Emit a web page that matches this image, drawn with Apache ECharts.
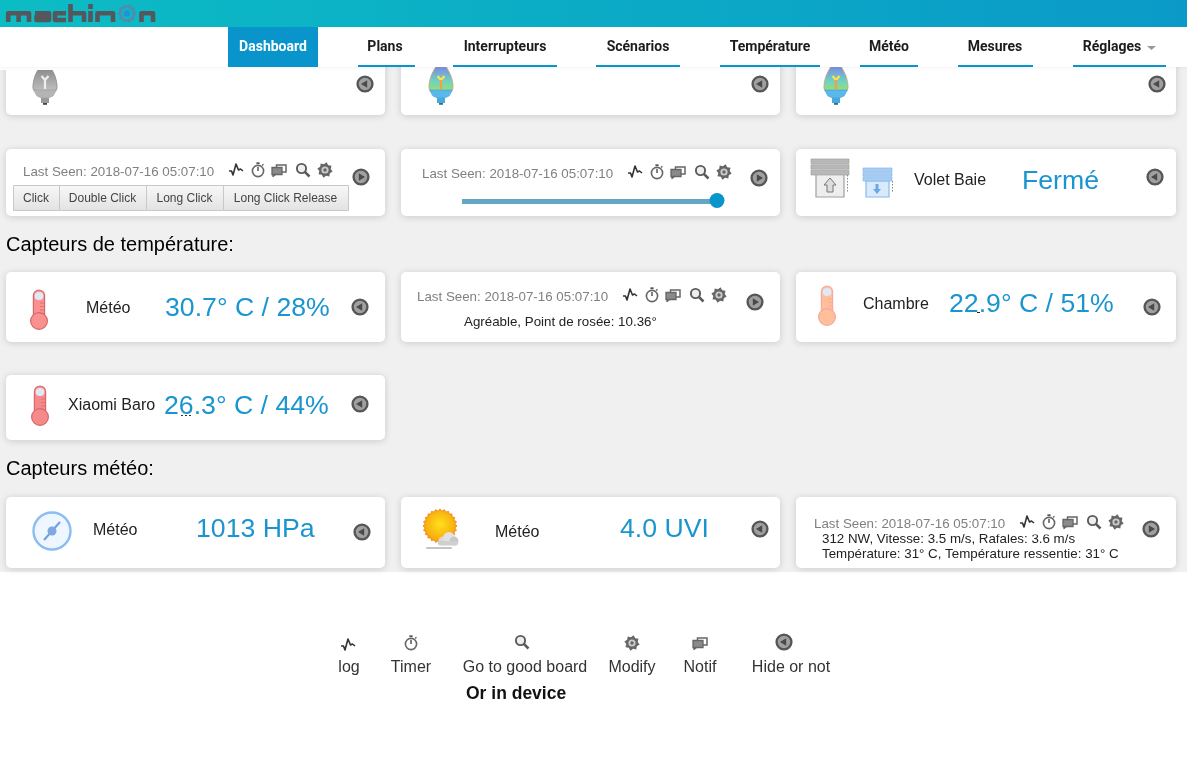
<!DOCTYPE html>
<html>
<head>
<meta charset="utf-8">
<style>html,body{margin:0;padding:0;background:#fff}#main{width:1187px;height:763px}</style>
<script src="https://cdn.jsdelivr.net/npm/echarts@6/dist/echarts.min.js"></script>
</head>
<body>
<div id="main"></div>
<script>
const navLabels = ["Dashboard", "Plans", "Interrupteurs", "Scénarios", "Température", "Météo", "Mesures", "Réglages"];
const lastSeen = "Last Seen: 2018-07-16 05:07:10";
const clickLabels = ["Click", "Double Click", "Long Click", "Long Click Release"];
const shutterName = "Volet Baie";
const shutterState = "Fermé";
const sectionTitles = ["Capteurs de température:", "Capteurs météo:"];
const sensorNames = ["Météo", "Chambre", "Xiaomi Baro"];
const temperatures = [30.7, 22.9, 26.3];
const humidities = [28, 51, 44];
const comfort = "Agréable, Point de rosée: 10.36°";
const pressure = 1013;
const uvIndex = "4.0";
const windLine = "312 NW, Vitesse: 3.5 m/s, Rafales: 3.6 m/s";
const feelLine = "Température: 31° C, Température ressentie: 31° C";
const legendLabels = ["log", "Timer", "Go to good board", "Modify", "Notif", "Hide or not"];

const SANS = '"Liberation Sans", Arial, sans-serif';
const BLUE = "#1a95cf";
const BIG = 26.67;
const SMALL = 13.33;
const els = [];

const txt = (x, y, text, size, fill, align, weight) => {
  els.push({
    type: "text", x, y: y + (size > 20 ? 4 : 2), z: 5,
    style: {
      text, fill,
      font: `${weight || "normal"} ${size}px ${SANS}`,
      align: align || "left", verticalAlign: "middle",
    },
  });
};

const rect = (x, y, width, height, style, r, z) => {
  els.push({ type: "rect", z: z || 1, shape: { x, y, width, height, r: r || 0 }, style });
};

const card = (x, y, width, height) => {
  rect(x, y, width, height, { fill: "#fff", shadowBlur: 7, shadowColor: "rgba(0,0,0,0.16)", shadowOffsetY: 1 }, 5);
};

const circle = (cx, cy, r, style, z) => {
  els.push({ type: "circle", z: z || 3, shape: { cx, cy, r }, style });
};

const poly = (pts, style, smooth, z) => {
  els.push({ type: "polygon", z: z || 3, shape: { points: pts, smooth: smooth || 0 }, style });
};

const line = (pts, stroke, lineWidth, z) => {
  els.push({ type: "polyline", z: z || 3, shape: { points: pts }, style: { stroke, lineWidth, fill: null, lineJoin: "round" } });
};

const at = (x, y, pts) => pts.map((p) => [x + p[0], y + p[1]]);

// round show/hide button
const roundBtn = (x, y, dir) => {
  circle(x, y, 7.4, { fill: "#a0a0a0", stroke: "#565656", lineWidth: 2.4 });
  const d = dir === "left" ? -1 : 1;
  poly(at(x, y, [[d * 4, 0], [-d * 2.2, -3.8], [-d * 2.2, 3.8]]), { fill: "#4a4a4a" });
};

const logIcon = (x, y) => {
  line(at(x, y, [[-7, 1], [-4.5, 1], [-3, 5], [0, -6], [2.5, 0], [4.5, -1], [7, 1]]), "#333", 1.6);
};

const timerIcon = (x, y) => {
  circle(x, y + 1, 5.6, { fill: "#fff", stroke: "#666", lineWidth: 1.6 });
  line(at(x, y, [[0, 1], [0, -3]]), "#555", 1.5);
  line(at(x, y, [[-1.6, -6.8], [1.6, -6.8]]), "#555", 1.8);
  line(at(x, y, [[4, -4.5], [5.5, -5.8]]), "#666", 1.4);
};

const notifIcon = (x, y) => {
  rect(x - 2.5, y - 5, 9.5, 7, { fill: "#fff", stroke: "#666", lineWidth: 1.5 }, 0, 3);
  rect(x - 7, y - 2.5, 10, 7, { fill: "#8a8a8a", stroke: "#666", lineWidth: 1.3 }, 0, 3);
  line(at(x, y, [[-6, 4.5], [-6, 6.5], [-3.5, 4.5]]), "#666", 1.3);
};

const searchIcon = (x, y) => {
  circle(x - 1.5, y - 1.5, 4.6, { fill: "#eee", stroke: "#5a5a5a", lineWidth: 1.9 });
  line(at(x, y, [[1.8, 1.8], [6.5, 6.5]]), "#5a5a5a", 2.6);
};

const gearIcon = (x, y) => {
  const pts = [];
  for (let i = 0; i < 16; i++) {
    const r = i % 2 ? 5.8 : 7.8;
    const a = (i * Math.PI) / 8 + 0.2;
    pts.push([x + r * Math.cos(a), y + r * Math.sin(a)]);
  }
  poly(pts, { fill: "#666" });
  circle(x, y, 3.6, { fill: "#ccc" }, 4);
  circle(x, y, 1.7, { fill: "#666" }, 4);
};

const actionIcons = (x, y) => {
  logIcon(x, y);
  timerIcon(x + 22, y);
  notifIcon(x + 43, y);
  searchIcon(x + 67, y);
  gearIcon(x + 89, y);
};

const bulb = (x, coloured) => {
  const fill = coloured
    ? { type: "linear", x: 0, y: 0, x2: 0, y2: 1, colorStops: [
        { offset: 0.35, color: "#7d8fe2" }, { offset: 0.72, color: "#6fd3c0" }, { offset: 1, color: "#9be070" }] }
    : { type: "linear", x: 0, y: 0, x2: 0, y2: 1, colorStops: [
        { offset: 0.35, color: "#8a8a8a" }, { offset: 1, color: "#c0c0c0" }] };
  poly(at(x, 50, [[0, 6], [5, 16], [10, 26], [12, 35], [11, 40], [-11, 40], [-12, 35], [-10, 26], [-5, 16]]),
    { fill, stroke: coloured ? "#c9a878" : "#8c8c8c", lineWidth: 0.8 }, 0.3);
  poly(at(x, 90, [[-11.5, 0], [11.5, 0], [8, 6], [3.5, 8], [-3.5, 8], [-8, 6]]),
    { fill: coloured ? "#5ab9ea" : "#b4b4b4", stroke: coloured ? "#3f9ed6" : "#a0a0a0", lineWidth: 0.6 });
  rect(x - 4, 98, 8, 5, { fill: coloured ? "#4aa8dc" : "#999" }, 0, 3);
  rect(x - 2, 103, 4, 1.8, { fill: coloured ? "#2a6f9c" : "#444" }, 0, 3);
  line(at(x, 79, [[-3.5, -3], [0, 1], [3.5, -3]]), coloured ? "#ffe24a" : "#eee", 2.2);
  line(at(x, 80, [[0, 0], [0, 9]]), coloured ? "#ff9a4a" : "#eee", 2.2);
};

const thermo = (x, top, body, stroke) => {
  rect(x - 5.6, top, 11.2, 30, { fill: body, stroke, lineWidth: 1.2 }, 5.6, 3);
  circle(x, top + 31, 8.4, { fill: body, stroke, lineWidth: 1.2 });
  rect(x - 4.4, top + 2, 8.8, 8, { fill: "#dfe8f4" }, 4, 4);
  for (let i = 0; i < 4; i++) {
    line([[x + 1, top + 13 + i * 3.5], [x + 5, top + 13 + i * 3.5]], stroke, 0.8, 4);
  }
};

const shutter = (slats, box, fill, stroke, slatFill) => {
  const slatH = (slats.h - 2 * slats.gap) / 3;
  for (let i = 0; i < 3; i++) {
    rect(slats.x, slats.y + i * (slatH + slats.gap), slats.w, slatH, { fill: slatFill, stroke, lineWidth: 0.7 }, 0, 3);
  }
  rect(box.x, box.y, box.w, box.h, { fill, stroke, lineWidth: 1.2 }, 0, 2);
  for (let yy = slats.y + slats.h; yy < box.y + box.h - 4; yy += 3) {
    rect(box.x + box.w + 3, yy, 1, 1.4, { fill: "#888" }, 0, 3);
  }
};

const tempText = (i) => `${temperatures[i]}° C / ${humidities[i]}%`;

// page background
rect(0, 0, 1187, 572, { fill: "#f0f0f0" }, 0, 0);

// cards
[6, 401, 796].forEach((x, i) => {
  card(x, 50, i === 2 ? 380 : 379, 65);
  card(x, 149, i === 2 ? 380 : 379, 67);
  card(x, 272, i === 2 ? 380 : 379, 70);
  card(x, 497, i === 2 ? 380 : 379, 71);
});
card(6, 375, 379, 65);

// first row
bulb(45, false);
bulb(441, true);
bulb(836, true);
roundBtn(365, 84, "left");
roundBtn(760, 84, "left");
roundBtn(1157, 84, "left");

// second row
txt(23, 170, lastSeen, SMALL, "#808080");
actionIcons(236, 170);
roundBtn(361, 177, "right");
const clickX = [13, 59, 146, 223, 348];
clickLabels.forEach((label, i) => {
  rect(clickX[i] + 0.5, 185.5, clickX[i + 1] - clickX[i], 25, {
    fill: { type: "linear", x: 0, y: 0, x2: 0, y2: 1, colorStops: [
      { offset: 0, color: "#f8f8f8" }, { offset: 1, color: "#e2e2e2" }] },
    stroke: "#c8c8c8", lineWidth: 1,
  }, 0, 3);
  txt((clickX[i] + clickX[i + 1]) / 2, 197, label, 12, "#444", "center");
});

txt(422, 172, lastSeen, SMALL, "#808080");
actionIcons(635, 172);
roundBtn(759, 178, "right");
rect(462, 199, 255, 5, { fill: "#62a8c4" }, 0, 3);
circle(717, 200.5, 7.5, { fill: "#0a94cc" });

shutter({ x: 811, y: 159, w: 38, h: 16, gap: 1.2 }, { x: 816, y: 173, w: 28, h: 24 }, "#eee", "#a0a0a0", "#b8b8b8");
poly([[830, 178], [836, 185], [833, 185], [833, 192], [827, 192], [827, 185], [824, 185]],
  { fill: "#ddd", stroke: "#777", lineWidth: 1 }, 0, 4);
shutter({ x: 863, y: 168, w: 29, h: 13, gap: 1 }, { x: 866, y: 181, w: 23, h: 16 }, "#d9eafc", "#86b9ee", "#a9cdf2");
poly([[877, 194], [881, 189], [878.5, 189], [878.5, 184], [875.5, 184], [875.5, 189], [873, 189]],
  { fill: "#6aa9e4" }, 0, 4);
txt(914, 179, shutterName, 16, "#222");
txt(1022, 178, shutterState, BIG, BLUE);
roundBtn(1155, 177, "left");

// temperature section
txt(6, 243, sectionTitles[0], 20, "#000");
thermo(39, 290, "#fb9090", "#d66a6a");
txt(86, 307, sensorNames[0], 16, "#222");
txt(165, 305, tempText(0), BIG, BLUE);
roundBtn(360, 307, "left");

txt(417, 295, lastSeen, SMALL, "#808080");
actionIcons(630, 295);
roundBtn(755, 302, "right");
txt(464, 320, comfort, SMALL, "#222");

thermo(827, 286, "#ffbf9b", "#f8a8a0");
txt(863, 303, sensorNames[1], 16, "#222");
txt(949, 301, tempText(1), BIG, BLUE);
rect(977, 312, 3, 1, { fill: "#222" }, 0, 6);
roundBtn(1152, 307, "left");

thermo(40, 386, "#f68a8a", "#d66a6a");
txt(68, 404, sensorNames[2], 16, "#222");
txt(164, 403, tempText(2), BIG, BLUE);
[181, 185, 189].forEach((x) => rect(x, 415, 2, 1, { fill: "#333" }, 0, 6));
roundBtn(360, 404, "left");

// weather section
txt(6, 467, sectionTitles[1], 20, "#000");
circle(52, 531, 18.5, { fill: "#eef6ff", stroke: "#8cbcf0", lineWidth: 2.4 });
line([[44, 540], [60, 522]], "#6f9fdc", 2);
circle(52, 531, 4.5, { fill: "#7fa8e0" }, 4);
txt(93, 529, sensorNames[0], 16, "#222");
txt(196, 526, `${pressure} HPa`, BIG, BLUE);
roundBtn(362, 532, "left");

const sunRays = [];
for (let i = 0; i < 48; i++) {
  const r = i % 2 ? 15 : 17;
  const a = (i * Math.PI) / 24;
  sunRays.push([440 + r * Math.cos(a), 526 + r * Math.sin(a)]);
}
poly(sunRays, {
  fill: { type: "radial", x: 0.5, y: 0.45, r: 0.6, colorStops: [
    { offset: 0, color: "#ffe01a" }, { offset: 1, color: "#f59a0a" }] },
  stroke: "#f07c10", lineWidth: 0.8,
});
circle(443, 541, 4.5, { fill: "#d8d8d8" }, 4);
circle(449, 538, 6, { fill: "#e2e2e2" }, 4);
circle(454, 541, 4.5, { fill: "#c8c8c8" }, 4);
rect(438, 541, 20, 4.5, { fill: "#cfcfcf" }, 2, 4);
rect(426, 547, 26, 2, { fill: "#c4c4c4" }, 1, 3);
txt(495, 531, sensorNames[0], 16, "#222");
txt(620, 526, `${uvIndex} UVI`, BIG, BLUE);
roundBtn(760, 529, "left");

txt(814, 522, lastSeen, SMALL, "#808080");
actionIcons(1027, 522);
roundBtn(1151, 529, "right");
txt(822, 537, windLine, SMALL, "#222");
txt(822, 552, feelLine, SMALL, "#222");
// upper edge of the gust figures is hidden in the original
rect(988, 532, 90, 2.5, { fill: "#fff" }, 0, 6);

// icon legend
logIcon(348, 645);
timerIcon(411, 643);
searchIcon(522, 642);
gearIcon(632, 643);
notifIcon(700, 643);
roundBtn(784, 642, "left");
const legendX = [349, 411, 525, 632, 700, 791];
legendLabels.forEach((label, i) => txt(legendX[i], 666, label, 16, "#333", "center"));
txt(466, 692, "Or in device", 17.5, "#111", "left", "bold");

// header and navigation sit above the scrolled cards
rect(0, 27, 1187, 40, { fill: "#fff", shadowBlur: 3, shadowColor: "rgba(0,0,0,0.08)" }, 0, 20);
rect(0, 67, 90, 3, { fill: "#fff" }, 0, 6);
rect(0, 0, 1187, 27, {
  fill: { type: "linear", x: 0, y: 0, x2: 1, y2: 0, colorStops: [
    { offset: 0, color: "#0cbcc4" }, { offset: 1, color: "#0b9ac8" }] },
}, 0, 21);
rect(228, 27, 90, 40, { fill: "#0a94cc" }, 0, 22);
const navCenter = [273, 385, 505, 638, 770, 889, 995, 1112];
const navLeft = [228, 358, 453, 596, 720, 860, 958, 1073];
const navRight = [318, 415, 557, 680, 820, 918, 1033, 1166];
navLabels.forEach((label, i) => {
  if (i > 0) rect(navLeft[i], 65, navRight[i] - navLeft[i], 2, { fill: "#0a94cc" }, 0, 22);
  els.push({
    type: "text", x: navCenter[i], y: 47, z: 23,
    style: {
      text: label, fill: i === 0 ? "#fff" : "#1c1c1c",
      font: 'bold 14px Roboto, sans-serif', align: "center", verticalAlign: "middle",
    },
  });
});
els.push({ type: "polygon", z: 23, shape: { points: [[1147, 46], [1156, 46], [1151.5, 50]] }, style: { fill: "#999" } });

// logo strokes
const logoLetters = [
  [[8.2, 22], [8.2, 13.2], [29, 13.2], [29, 22]],
  [[18.6, 13.2], [18.6, 22]],
  [[35, 13.2], [49, 13.2], [49, 20], [36.5, 20], [36.5, 16.5], [49, 16.5]],
  [[66, 13.2], [55, 13.2], [55, 20], [66, 20]],
  [[70.5, 4], [70.5, 22]],
  [[70.5, 13.2], [84, 13.2], [84, 22]],
  [[90.5, 11], [90.5, 22]],
  [[90.5, 4], [90.5, 9]],
  [[97.5, 22], [97.5, 13.2], [113, 13.2], [113, 22]],
  [[141.5, 22], [141.5, 13.2], [153, 13.2], [153, 22]],
];
logoLetters.forEach((pts) => line(pts, "#54585c", 4.6, 23));
const cog = [];
for (let i = 0; i < 20; i++) {
  const r = i % 2 ? 8 : 9.6;
  const a = (i * Math.PI) / 10;
  cog.push([127 + r * Math.cos(a), 13.5 + r * Math.sin(a)]);
}
poly(cog, { fill: "#4b8fae" }, 0, 23);
circle(127, 13.5, 5.6, { fill: "#14b4c8" }, 24);
circle(127, 13.5, 3.2, { fill: "#1f94d0" }, 25);

const chart = echarts.init(document.getElementById("main"));
chart.setOption({ animation: false, backgroundColor: "#fff", graphic: { elements: els } });
window.onresize = function () {
  chart.resize();
};
</script>
</body>
</html>
